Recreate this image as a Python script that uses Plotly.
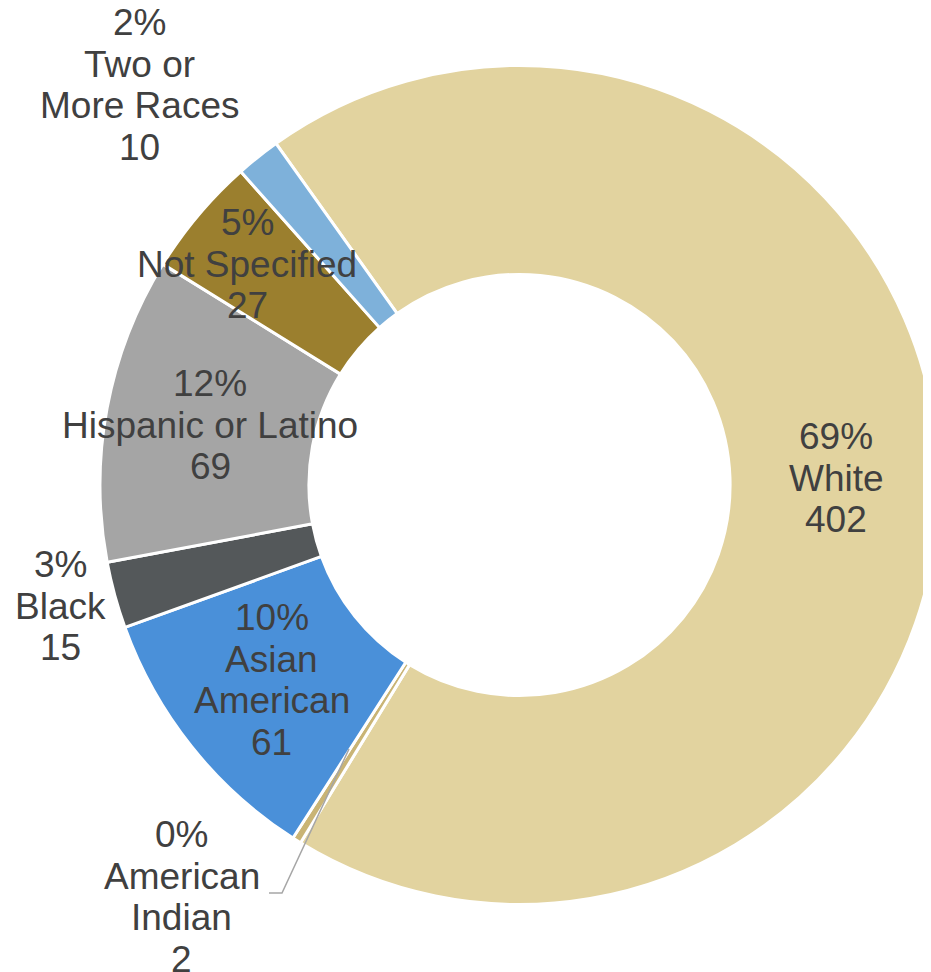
import math
import plotly.graph_objects as go

# ---- data ----
categories = ["White", "American Indian", "Asian American", "Black",
              "Hispanic or Latino", "Not Specified", "Two or More Races"]
counts = [402, 2, 61, 15, 69, 27, 10]
label_name_lines = [["White"], ["American", "Indian"], ["Asian", "American"], ["Black"],
                    ["Hispanic or Latino"], ["Not Specified"], ["Two or", "More Races"]]

# ---- styles / layout ----
colors = ["#E2D39F", "#C9B475", "#4A90D9", "#54585A", "#A5A5A5", "#9B7F2E", "#7EB1DA"]
W, H = 931, 972
PAGE_OFF = 8  # page body margin: figure is drawn 8px in from the top-left
# label anchor: (center x, baseline of first line) in page pixels
label_pos = [(836, 449), (181.5, 847), (271.5, 630), (60.5, 577),
             (210, 396), (247.5, 235), (139.5, 35)]
LINE_PITCH = 41.7
FONT_SIZE = 37
BASELINE_TO_MID = 12.5
TEXT_COLOR = "#404040"
FONT_FAMILY = "Liberation Sans, Arial, sans-serif"

# pie placement (figure pixels)
pie_cx, pie_cy, pie_r = 511.5, 477, 419.5


def px(x):
    return (x - PAGE_OFF) / W


def py(y):
    return 1 - (y - PAGE_OFF) / H


total = sum(counts)

fig = go.Figure(go.Pie(
    labels=categories,
    values=counts,
    sort=False,
    direction="clockwise",
    rotation=-35.5,
    hole=0.502,
    marker=dict(colors=colors, line=dict(color="white", width=3)),
    textinfo="none",
    hoverinfo="label+value+percent",
    showlegend=False,
    domain=dict(x=[(pie_cx - pie_r) / W, min(1, (pie_cx + pie_r) / W)],
                y=[1 - (pie_cy + pie_r) / H, 1 - (pie_cy - pie_r) / H]),
))

annotations = []
for name_lines, cnt, (cx, by) in zip(label_name_lines, counts, label_pos):
    pct = round(100 * cnt / total)
    lines = [f"{pct}%"] + name_lines + [str(cnt)]
    for i, line in enumerate(lines):
        base = by + i * LINE_PITCH
        annotations.append(dict(
            x=px(cx), y=py(base - BASELINE_TO_MID),
            xref="paper", yref="paper",
            xanchor="center", yanchor="middle",
            text=line, showarrow=False,
            font=dict(size=FONT_SIZE, color=TEXT_COLOR, family=FONT_FAMILY),
        ))

# leader line for the tiny American Indian slice (page pixels)
leader_pts = [(349, 749), (282, 893), (269, 893)]
path = "M " + " L ".join(f"{px(x)},{py(y)}" for x, y in leader_pts)
shapes = [dict(type="path", path=path, xref="paper", yref="paper",
               line=dict(color="#A6A6A6", width=1.5))]

fig.update_layout(
    width=W, height=H,
    margin=dict(l=0, r=0, t=0, b=0),
    paper_bgcolor="white", plot_bgcolor="white",
    annotations=annotations,
    shapes=shapes,
    font=dict(family=FONT_FAMILY, color=TEXT_COLOR),
)

fig.write_html("out.html")
